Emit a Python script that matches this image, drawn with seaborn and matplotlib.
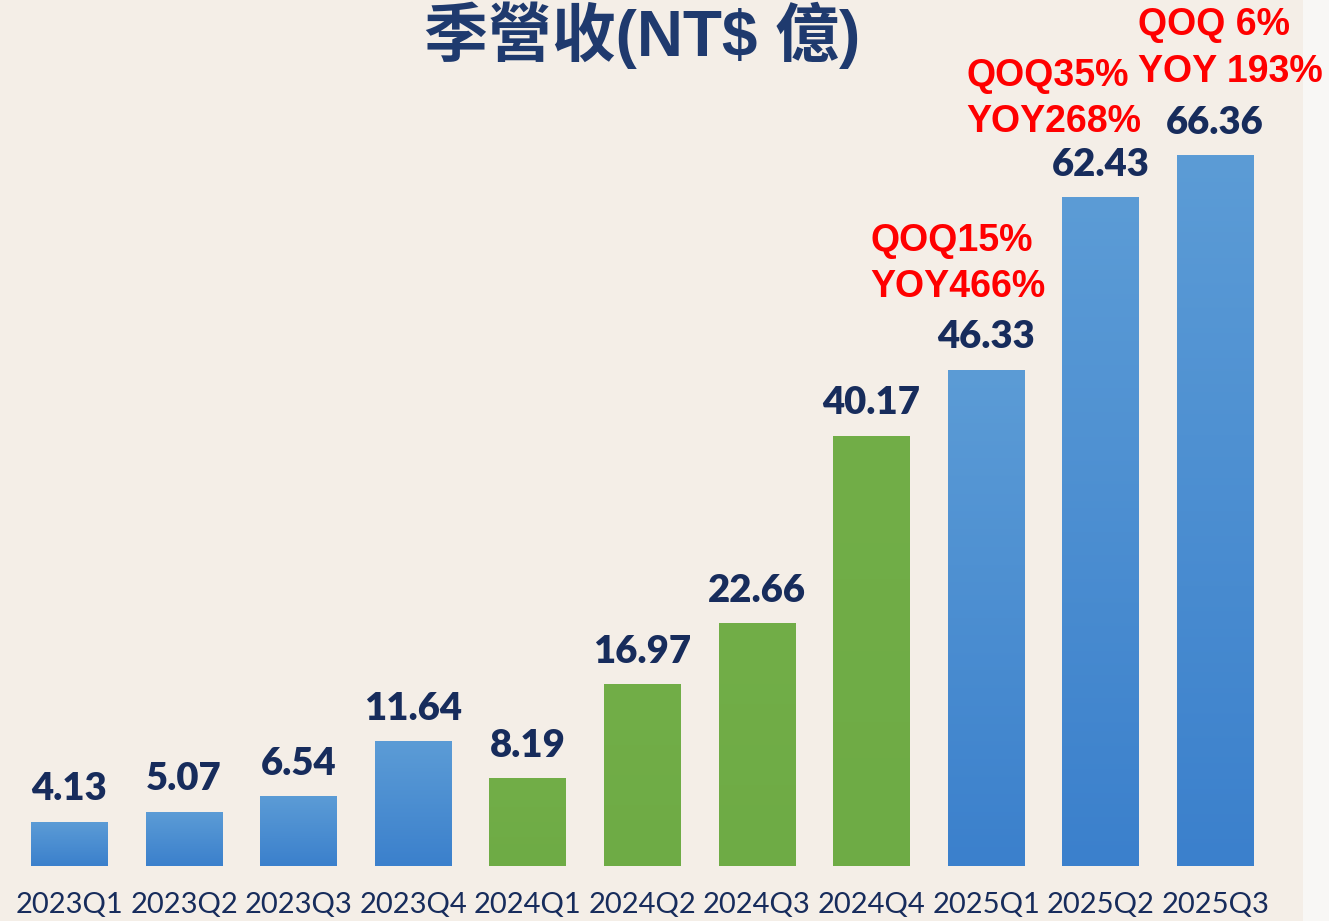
import matplotlib
matplotlib.use('Agg')
import matplotlib.pyplot as plt
import seaborn as sns
import numpy as np
import pandas as pd
from matplotlib.colors import LinearSegmentedColormap
from matplotlib.patches import Rectangle

# Data
quarters = ['2023Q1', '2023Q2', '2023Q3', '2023Q4', '2024Q1', '2024Q2',
            '2024Q3', '2024Q4', '2025Q1', '2025Q2', '2025Q3']
revenue = [4.13, 5.07, 6.54, 11.64, 8.19, 16.97, 22.66, 40.17, 46.33, 62.43, 66.36]
bar_group = ['blue', 'blue', 'blue', 'blue', 'green', 'green', 'green', 'green',
             'blue', 'blue', 'blue']
growth_labels = {'2025Q1': 'QOQ15%\nYOY466%',
                 '2025Q2': 'QOQ35%\nYOY268%',
                 '2025Q3': 'QOQ 6%\nYOY 193%'}
title_text = '季營收(NT$ 億)'

df = pd.DataFrame({'Quarter': quarters, 'Revenue': revenue, 'Group': bar_group})

bg = '#f4eee7'
navy = '#172c5c'
blue_grad = LinearSegmentedColormap.from_list('bg', ['#3b80cc', '#5c9cd6'])
green_grad = LinearSegmentedColormap.from_list('gg', ['#6eab45', '#72ae48'])

sns.set_theme(style='white')
plt.rcParams['font.family'] = ['Lato', 'DejaVu Sans']

fig = plt.figure(figsize=(13.29, 9.21), dpi=100)
fig.patch.set_facecolor('#f8f7f5')
fig.add_artist(Rectangle((0, 0), 1303 / 1329, 1, transform=fig.transFigure,
                         facecolor=bg, edgecolor='none', zorder=0))

ax = fig.add_axes([12.2 / 1329, 55 / 921, 1260.3 / 1329, 866 / 921])
ax.set_facecolor('none')

palette = {'blue': '#4a8ed2', 'green': '#70ad47'}
sns.barplot(data=df, x='Quarter', y='Revenue', hue='Group', palette=palette,
            dodge=False, width=0.67, legend=False, ax=ax, saturation=1)

# gradient fill clipped to each bar
grad = np.linspace(0, 1, 256).reshape(-1, 1)
patches = sorted([p for p in ax.patches if p.get_height() > 0], key=lambda p: p.get_x())
for p, grp in zip(patches, bar_group):
    x0, w, h = p.get_x(), p.get_width(), p.get_height()
    cmap = blue_grad if grp == 'blue' else green_grad
    im = ax.imshow(grad, cmap=cmap, origin='lower', aspect='auto',
                   extent=[x0, x0 + w, 0, h], zorder=p.get_zorder() + 0.1)
    im.set_clip_path(p)
    p.set_edgecolor('none')

ax.set_xlim(-0.5, len(quarters) - 0.5)
ax.set_ylim(0, 80.85)

# value labels
for i, v in enumerate(revenue):
    ax.annotate(f'{v:.2f}', (i, v), xytext=(0, 11), textcoords='offset points',
                ha='center', va='bottom', fontsize=27.5, fontweight='heavy',
                color=navy, family=['Lato', 'DejaVu Sans'])

# growth annotations
growth_pos = {'2025Q1': (6.99, 56.2), '2025Q2': (7.83, 71.6), '2025Q3': (9.33, 76.3)}
for q, txt in growth_labels.items():
    gx, gy = growth_pos[q]
    ax.text(gx, gy, txt, ha='left', va='center', fontsize=27, fontweight='bold',
            color='#ff0000', family=['Liberation Sans', 'DejaVu Sans'],
            linespacing=1.38, clip_on=False)

ax.set_xlabel('')
ax.set_ylabel('')
ax.set_yticks([])
ax.tick_params(axis='x', length=0, pad=19, labelsize=21, labelcolor=navy)
for lbl in ax.get_xticklabels():
    lbl.set_family(['Lato', 'DejaVu Sans'])
sns.despine(ax=ax, left=True, bottom=True)

fig.text(642 / 1329, 1 - 35 / 921, title_text, ha='center', va='center',
         fontsize=46, fontweight='bold', color='#1f3a6e',
         family=['Liberation Sans', 'Noto Sans CJK TC'])

fig.savefig('out.png', dpi=100, facecolor=fig.get_facecolor())
